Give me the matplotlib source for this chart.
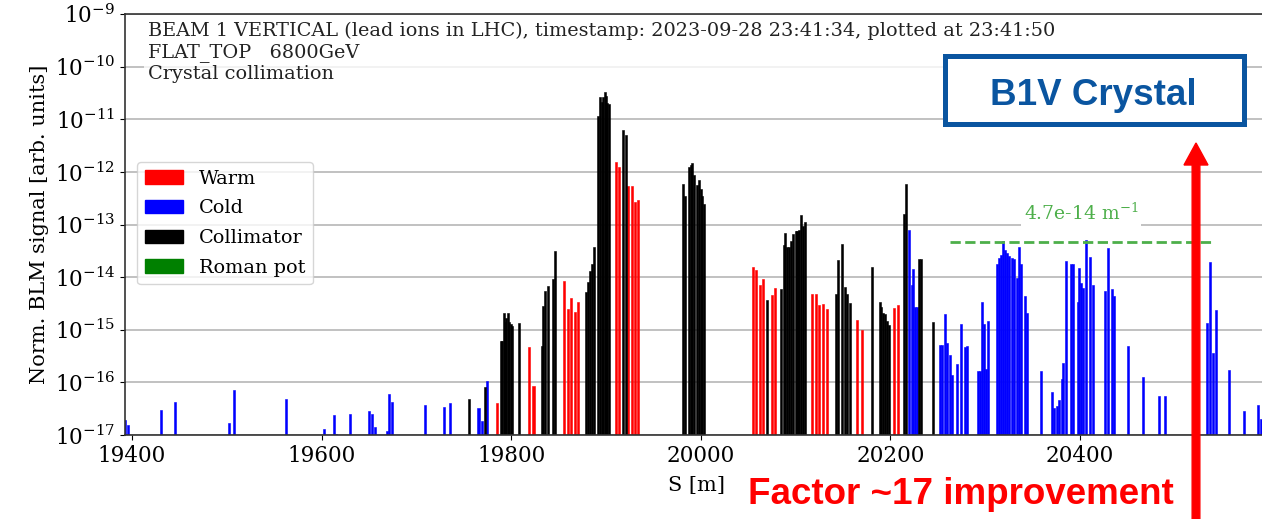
import matplotlib
matplotlib.use("Agg")
import matplotlib.pyplot as plt
from matplotlib.patches import Patch, Rectangle, FancyArrow
from matplotlib.ticker import NullLocator

# BLM loss map, beam 1 vertical
warm_s = [19784.7, 19818.5, 19823.5, 19855.3, 19859.6, 19862.7, 19867.3, 19870.8,
          19910.2, 19914.1, 19923.0, 19927.0, 19930.2, 19934.0,
          20054.7, 20057.8, 20062.4, 20065.6, 20074.7, 20078.2,
          20117.7, 20121.6, 20125.1, 20129.0, 20132.8, 20165.2, 20170.1,
          20203.8, 20208.1]
warm_v = [4.0e-17, 4.6e-16, 8.5e-17, 8.3e-15, 2.5e-15, 4.1e-15, 2.2e-15, 3.4e-15,
          1.55e-12, 1.23e-12, 5.4e-13, 5.4e-13, 2.7e-13, 2.95e-13,
          1.58e-14, 1.35e-14, 7.1e-15, 9.1e-15, 4.6e-15, 6.3e-15,
          4.7e-15, 4.8e-15, 2.9e-15, 3.1e-15, 2.45e-15, 1.55e-15, 1.0e-15,
          2.6e-15, 2.9e-15]

cold_s = [19393.0, 19396.0, 19431.0, 19445.0, 19502.0, 19508.0, 19562.0, 19602.5,
          19613.0, 19615.5, 19630.0, 19650.0, 19653.5, 19656.5, 19669.0, 19671.0,
          19674.0, 19709.5, 19729.0, 19735.5, 19765.5, 19769.5, 19774.5,
          20219.5, 20222.5, 20224.0, 20226.0, 20228.0,
          20252.4, 20254.0, 20257.7, 20260.1, 20263.0, 20265.4, 20270.0, 20274.5,
          20278.8, 20281.2, 20292.8, 20295.0, 20296.5, 20298.8, 20300.9, 20303.4,
          20312.2, 20314.6, 20316.7, 20319.2, 20321.3, 20323.4, 20325.5, 20328.0,
          20330.5, 20333.3, 20335.4, 20337.5, 20342.1, 20344.5, 20358.9,
          20370.9, 20373.0, 20375.5, 20378.3, 20380.7, 20382.5, 20385.0, 20390.2,
          20392.3, 20397.5, 20399.0, 20400.8, 20402.9, 20406.4, 20410.6, 20413.4,
          20426.4, 20429.3, 20433.5, 20436.0, 20450.7, 20466.5, 20483.8, 20489.7,
          20534.4, 20537.2, 20540.7, 20543.2, 20557.2, 20573.4, 20587.5, 20591.0]
cold_v = [1.9e-17, 1.55e-17, 2.95e-17, 4.2e-17, 1.7e-17, 7.2e-17, 4.9e-17, 1.3e-17,
          2.45e-17, 1.05e-17, 2.5e-17, 2.9e-17, 2.5e-17, 1.4e-17, 1.2e-17, 6.0e-17,
          4.3e-17, 3.7e-17, 3.4e-17, 4.0e-17, 3.3e-17, 1.85e-17, 1.07e-16,
          7.8e-14, 7.1e-15, 1.45e-14, 2.75e-15, 2.75e-15,
          5.1e-16, 5.1e-16, 1.95e-15, 5.6e-16, 3.3e-16, 1.38e-16, 2.2e-16, 1.29e-15,
          4.6e-16, 5.0e-16, 1.62e-16, 1.62e-16, 3.3e-15, 1.29e-15, 1.78e-16, 1.45e-15,
          1.74e-14, 2.3e-14, 2.6e-14, 4.8e-14, 3.3e-14, 2.9e-14, 2.5e-14, 2.3e-14,
          2.2e-14, 9.5e-15, 3.7e-14, 1.74e-14, 4.3e-15, 2.1e-15, 1.62e-16,
          6.5e-17, 3.2e-17, 3.5e-17, 4.7e-17, 1.15e-16, 2.3e-16, 2.0e-14, 1.74e-14,
          1.74e-14, 3.4e-15, 1.48e-14, 7.9e-15, 6.3e-15, 5.0e-14, 2.4e-14, 7.1e-15,
          5.4e-15, 3.5e-14, 6.0e-15, 4.4e-15, 4.9e-16, 1.29e-16, 5.6e-17, 5.4e-17,
          1.35e-15, 1.9e-14, 3.6e-16, 2.4e-15, 1.74e-16, 2.9e-17, 3.7e-17, 2.0e-17]

coll_s = [19755.5, 19772.5, 19789.0, 19790.5, 19792.0, 19793.5, 19795.0, 19796.5,
          19798.0, 19799.5, 19801.0, 19808.5, 19832.5, 19834.0, 19835.7, 19839.0,
          19844.0, 19846.5, 19878.5, 19880.7, 19883.0, 19885.0, 19887.0,
          19892.0, 19893.7, 19895.4, 19897.2, 19898.6, 19900.0, 19901.4, 19903.5,
          19918.3, 19920.7, 19981.0, 19983.3, 19987.2, 19989.3, 19991.0, 19993.1,
          19995.6, 19997.7, 19999.8, 20001.6, 20003.7, 20070.1,
          20085.0, 20087.5, 20089.2, 20091.3, 20093.4, 20095.2, 20097.3, 20100.5,
          20102.0, 20103.3, 20105.4, 20107.5, 20110.0,
          20142.3, 20144.4, 20149.3, 20152.5, 20154.6, 20157.4, 20180.3,
          20188.7, 20190.5, 20192.6, 20194.7, 20196.5, 20199.0,
          20214.0, 20216.0, 20230.5, 20232.5, 20245.4]
coll_v = [4.8e-17, 8.1e-17, 6.2e-16, 6.2e-16, 2.04e-15, 1.41e-15, 1.7e-15, 2.04e-15,
          1.41e-15, 1.26e-15, 1.17e-15, 1.32e-15, 5.0e-16, 2.8e-15, 5.5e-15, 6.9e-15,
          9.1e-15, 3.2e-14, 5.2e-15, 8.1e-15, 1.29e-14, 1.74e-14, 3.8e-14,
          1.15e-11, 2.6e-11, 2.1e-11, 2.6e-11, 3.3e-11, 2.8e-11, 2.0e-11, 1.95e-11,
          6.2e-12, 5.0e-12, 5.9e-13, 3.5e-13, 1.23e-12, 1.35e-12, 1.45e-12, 8.7e-13,
          5.6e-13, 6.9e-13, 4.8e-13, 3.5e-13, 2.5e-13, 3.6e-15,
          6.0e-15, 4.0e-14, 6.9e-14, 3.7e-14, 3.7e-14, 4.8e-14, 6.5e-14, 7.4e-14,
          7.6e-14, 7.8e-14, 1.51e-13, 9.3e-14, 1.12e-13,
          4.7e-15, 2.1e-14, 4.2e-14, 6.6e-15, 4.7e-15, 3.2e-15, 1.55e-14,
          3.3e-15, 2.75e-15, 2.1e-15, 2.0e-15, 1.45e-15, 1.23e-15,
          1.55e-13, 6.0e-13, 2.2e-14, 2.2e-14, 1.4e-15]

limit_value = 4.7e-14
limit_range = [20263, 20542]

header = ("BEAM 1 VERTICAL (lead ions in LHC), timestamp: 2023-09-28 23:41:34, plotted at 23:41:50\n"
          "FLAT_TOP   6800GeV\n"
          "Crystal collimation")

plt.rcParams['font.family'] = ['DejaVu Serif']
plt.rcParams['mathtext.fontset'] = 'dejavuserif'

fig = plt.figure(figsize=(12.62, 5.19), dpi=100)
# axes run a little past the right edge of the picture (cropped screenshot)
ax = fig.add_axes([125 / 1262, 84 / 519, 1142 / 1262, 421 / 519])

bw = 2.2
ax.bar(cold_s, cold_v, width=bw, color='blue', edgecolor='blue', linewidth=0.4, zorder=2)
ax.bar(warm_s, warm_v, width=bw, color='red', edgecolor='red', linewidth=0.4, zorder=2)
ax.bar(coll_s, coll_v, width=bw, color='black', edgecolor='black', linewidth=0.4, zorder=2)

ax.set_yscale('log')
ax.set_ylim(1e-17, 1e-9)
ax.set_xlim(19392.6, 20597.3)
ax.yaxis.set_minor_locator(NullLocator())
ax.set_xticks([19400, 19600, 19800, 20000, 20200, 20400])
ax.tick_params(labelsize=15.5)
ax.set_axisbelow(True)
ax.grid(axis='y', which='major', color='#bcbcbc', linewidth=1.3)
for sp in ax.spines.values():
    sp.set_linewidth(1.2)
    sp.set_color('#333333')
ax.set_xlabel('S [m]', fontsize=15, labelpad=7)
ax.set_ylabel('Norm. BLM signal [arb. units]', fontsize=15)

ax.text(0.02, 0.982, header, transform=ax.transAxes, ha='left', va='top', fontsize=13.9,
        linespacing=1.22, color='#222222',
        bbox=dict(facecolor='white', alpha=0.8, edgecolor='none', pad=3))

# loss limit over the cold region
ax.plot(limit_range, [limit_value, limit_value], color='#4daf4a', linestyle='--', linewidth=2, zorder=3)
ax.text(sum(limit_range) / 2 - 1, 1.65e-13, '%.1e m$^{-1}$' % limit_value, color='#4daf4a',
        fontsize=13.5, ha='center', va='center', zorder=4,
        bbox=dict(facecolor='white', edgecolor='none', pad=2))

handles = [Patch(color='red', label='Warm'), Patch(color='blue', label='Cold'),
           Patch(color='black', label='Collimator'), Patch(color='green', label='Roman pot')]
ax.legend(handles=handles, loc='upper left', bbox_to_anchor=(0.0105, 0.648), borderaxespad=0,
          fontsize=13.9, framealpha=0.8, labelspacing=0.6)

# slide annotations
fig.patches.append(Rectangle((944.5 / 1262, 1 - 123.5 / 519), 299 / 1262, 68 / 519,
                             transform=fig.transFigure, facecolor='white', edgecolor='#0a55a0',
                             linewidth=3.6, zorder=10))
fig.text(1093 / 1262, 1 - 105 / 519, 'B1V Crystal', ha='center', va='baseline', color='#0a55a0',
         fontsize=26.5, fontweight='bold', family='Liberation Sans', zorder=11)
fig.patches.append(FancyArrow(11.96, -0.05, 0, 3.81, width=0.077, head_width=0.24, head_length=0.22,
                              length_includes_head=True, color='red', transform=fig.dpi_scale_trans,
                              zorder=10))
fig.text(748 / 1262, 1 - 504 / 519, 'Factor ~17 improvement', ha='left', va='baseline', color='red',
         fontsize=26.5, fontweight='bold', family='Liberation Sans', zorder=11)

fig.savefig('out.png', dpi=100)
